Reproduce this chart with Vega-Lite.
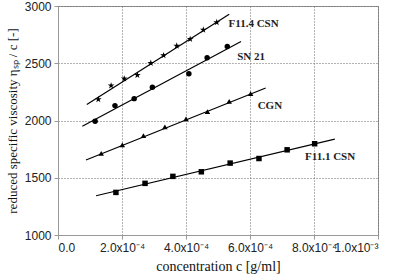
{
  "$schema": "https://vega.github.io/schema/vega-lite/v6.json",
  "width": 320,
  "height": 229,
  "autosize": {"type": "none"},
  "padding": {"left": 58, "top": 6, "right": 22, "bottom": 42},
  "background": "white",
  "config": {
    "view": {"stroke": "#999999", "strokeWidth": 1},
    "axis": {
      "domainColor": "#999999",
      "tickColor": "#999999",
      "gridColor": "#666666",
      "gridDash": [1, 2],
      "gridWidth": 1,
      "labelFont": "Liberation Sans",
      "labelFontSize": 12,
      "labelColor": "#222222",
      "labelOverlap": false,
      "titleFont": "Liberation Serif",
      "titleFontSize": 13,
      "titleFontWeight": "normal",
      "titleColor": "#111111",
      "tickSize": 4
    }
  },
  "data": {
    "values": [
      {"kind": "pt", "series": "F11.4 CSN", "c": 0.000126, "eta": 2185},
      {"kind": "pt", "series": "F11.4 CSN", "c": 0.000166, "eta": 2304},
      {"kind": "pt", "series": "F11.4 CSN", "c": 0.000207, "eta": 2365},
      {"kind": "pt", "series": "F11.4 CSN", "c": 0.000248, "eta": 2397},
      {"kind": "pt", "series": "F11.4 CSN", "c": 0.00029, "eta": 2502},
      {"kind": "pt", "series": "F11.4 CSN", "c": 0.00033, "eta": 2568},
      {"kind": "pt", "series": "F11.4 CSN", "c": 0.000371, "eta": 2652},
      {"kind": "pt", "series": "F11.4 CSN", "c": 0.000413, "eta": 2710},
      {"kind": "pt", "series": "F11.4 CSN", "c": 0.000454, "eta": 2791},
      {"kind": "pt", "series": "F11.4 CSN", "c": 0.000496, "eta": 2858},
      {"kind": "pt", "series": "SN 21", "c": 0.000116, "eta": 1994},
      {"kind": "pt", "series": "SN 21", "c": 0.000178, "eta": 2130},
      {"kind": "pt", "series": "SN 21", "c": 0.000238, "eta": 2191},
      {"kind": "pt", "series": "SN 21", "c": 0.000295, "eta": 2290},
      {"kind": "pt", "series": "SN 21", "c": 0.000409, "eta": 2409},
      {"kind": "pt", "series": "SN 21", "c": 0.000466, "eta": 2548},
      {"kind": "pt", "series": "SN 21", "c": 0.000529, "eta": 2646},
      {"kind": "pt", "series": "CGN", "c": 0.000135, "eta": 1713},
      {"kind": "pt", "series": "CGN", "c": 0.000201, "eta": 1788},
      {"kind": "pt", "series": "CGN", "c": 0.000267, "eta": 1867},
      {"kind": "pt", "series": "CGN", "c": 0.000334, "eta": 1945},
      {"kind": "pt", "series": "CGN", "c": 0.0004, "eta": 2015},
      {"kind": "pt", "series": "CGN", "c": 0.000467, "eta": 2078},
      {"kind": "pt", "series": "CGN", "c": 0.000535, "eta": 2168},
      {"kind": "pt", "series": "CGN", "c": 0.000602, "eta": 2235},
      {"kind": "pt", "series": "F11.1 CSN", "c": 0.000181, "eta": 1372},
      {"kind": "pt", "series": "F11.1 CSN", "c": 0.000272, "eta": 1451},
      {"kind": "pt", "series": "F11.1 CSN", "c": 0.000359, "eta": 1512},
      {"kind": "pt", "series": "F11.1 CSN", "c": 0.000448, "eta": 1552},
      {"kind": "pt", "series": "F11.1 CSN", "c": 0.000538, "eta": 1628},
      {"kind": "pt", "series": "F11.1 CSN", "c": 0.000628, "eta": 1668},
      {"kind": "pt", "series": "F11.1 CSN", "c": 0.000716, "eta": 1744},
      {"kind": "pt", "series": "F11.1 CSN", "c": 0.000802, "eta": 1797},
      {"kind": "fit", "series": "F11.4 CSN", "c": 0.00009, "eta": 2139, "c2": 0.000535, "eta2": 2928},
      {"kind": "fit", "series": "SN 21", "c": 0.000076, "eta": 1950, "c2": 0.000572, "eta2": 2690},
      {"kind": "fit", "series": "CGN", "c": 0.0000875, "eta": 1655, "c2": 0.000649, "eta2": 2284},
      {"kind": "fit", "series": "F11.1 CSN", "c": 0.000119, "eta": 1343, "c2": 0.000865, "eta2": 1838},
      {"kind": "label", "series": "F11.4 CSN", "c": 0.000533, "eta": 2843},
      {"kind": "label", "series": "SN 21", "c": 0.00056, "eta": 2557},
      {"kind": "label", "series": "CGN", "c": 0.000624, "eta": 2130},
      {"kind": "label", "series": "F11.1 CSN", "c": 0.000772, "eta": 1680}
    ]
  },
  "encoding": {
    "x": {
      "field": "c", "type": "quantitative",
      "scale": {"domain": [0, 0.001], "nice": false},
      "axis": {
        "orient": "bottom",
        "values": [0, 0.0002, 0.0004, 0.0006, 0.0008, 0.001],
        "labelExpr": "datum.value == 0 ? '0.0' : (datum.value >= 0.00099 ? '1.0x10⁻³' : format(datum.value * 10000, '.1f') + 'x10⁻⁴')",
        "grid": true,
        "title": "concentration  c [g/ml]",
        "titleFontSize": 14,
        "titlePadding": 6,
        "labelPadding": 3
      }
    },
    "y": {
      "field": "eta", "type": "quantitative",
      "scale": {"domain": [1000, 3000], "nice": false, "zero": false},
      "axis": {
        "orient": "left",
        "values": [1000, 1500, 2000, 2500, 3000],
        "format": "d",
        "grid": true,
        "title": "reduced specific viscosity  ηₛₚ / c [-]",
        "titlePadding": 5,
        "labelPadding": 3
      }
    }
  },
  "layer": [
    {
      "transform": [{"filter": "datum.kind == 'fit'"}],
      "mark": {"type": "rule", "color": "black", "strokeWidth": 1.2},
      "encoding": {
        "x2": {"field": "c2"},
        "y2": {"field": "eta2"}
      }
    },
    {
      "transform": [{"filter": "datum.kind == 'pt'"}],
      "mark": {"type": "point", "filled": true, "color": "black", "opacity": 1},
      "encoding": {
        "shape": {
          "field": "series", "type": "nominal",
          "scale": {"domain": ["F11.4 CSN", "SN 21", "CGN", "F11.1 CSN"], "range": ["M0,-1.3L0.29,-0.4L1.24,-0.4L0.47,0.15L0.76,1.05L0,0.5L-0.76,1.05L-0.47,0.15L-1.24,-0.4L-0.29,-0.4Z", "circle", "triangle-up", "square"]},
          "legend": null
        },
        "size": {"value": 30}
      }
    },
    {
      "transform": [{"filter": "datum.kind == 'label'"}],
      "mark": {"type": "text", "align": "left", "baseline": "middle", "font": "Liberation Serif", "fontWeight": "bold", "fontSize": 11, "color": "#222222"},
      "encoding": {
        "text": {"field": "series"}
      }
    }
  ]
}
